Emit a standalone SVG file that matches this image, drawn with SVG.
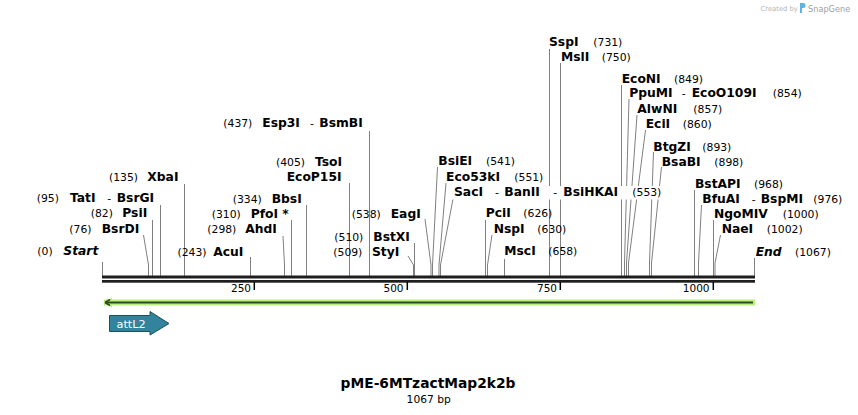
<svg xmlns="http://www.w3.org/2000/svg" width="858" height="415" viewBox="0 0 858 415">
<style>
text{font-family:"DejaVu Sans",Verdana,sans-serif;fill:#000}
.n{font-size:12.3px;font-weight:bold}
.i{font-style:italic}
.p{font-size:10.8px}
.d{font-size:10.8px}
.tk{font-size:10.5px;text-anchor:end}
.c{fill:none;stroke:#808080;stroke-width:1}
.bb{fill:#1e1e1e}
.tick{stroke:#000;stroke-width:1.5}
.bg{fill:#fff}
</style>
<rect width="858" height="415" fill="#fff"/>

<g id="watermark">
<text x="760.5" y="11" style="font-size:6.8px;fill:#b4b4b4">Created by</text>
<path d="M800,3 h3 a2.5,2.5 0 0 1 0,5 h-1 v5 h-2 z" fill="#5bb3e6"/>
<text x="808" y="11.5" style="font-size:8.2px;fill:#a0a0a0">SnapGene</text>
</g>

<g id="connectors">
<path class="c" d="M102.5,262V276"/>
<path class="c" d="M143.5,235L148.5,265V276"/>
<path class="c" d="M152.5,220V276"/>
<path class="c" d="M160.5,205V276"/>
<path class="c" d="M184.5,184V276"/>
<path class="c" d="M250.5,257V276"/>
<path class="c" d="M283,236L284.5,265V276"/>
<path class="c" d="M291.5,220V276"/>
<path class="c" d="M306.5,205V276"/>
<path class="c" d="M349.5,183V276"/>
<path class="c" d="M369.5,131V276"/>
<path class="c" d="M408,256L413.5,265V276"/>
<path class="c" d="M414.5,243V276"/>
<path class="c" d="M425,219L431,265V276"/>
<path class="c" d="M437.5,167L432.5,265V276"/>
<path class="c" d="M446,183L439,265V276"/>
<path class="c" d="M453,199L440.5,265V276"/>
<path class="c" d="M485.5,220V276"/>
<path class="c" d="M492,235L487.5,265V276"/>
<path class="c" d="M504.5,259V276"/>
<path class="c" d="M549.5,49V276"/>
<path class="c" d="M560.5,63V276"/>
<path class="c" d="M621.5,85V276"/>
<path class="c" d="M629,99L624.5,263V276"/>
<path class="c" d="M637,115L626.5,263V276"/>
<path class="c" d="M645.5,130L628.5,263V276"/>
<path class="c" d="M653.5,152L649.5,263V276"/>
<path class="c" d="M661.5,167L651.5,263V276"/>
<path class="c" d="M694.5,190V276"/>
<path class="c" d="M701.5,205L698.5,263V276"/>
<path class="c" d="M713.5,220V276"/>
<path class="c" d="M720.5,235L715,263V276"/>
<path class="c" d="M754.5,258V276"/>
</g>

<g id="backbone">
<rect class="bb" x="102" y="275.5" width="653" height="3"/>
<rect class="bb" x="102" y="280" width="653" height="2.7"/>
<line class="tick" x1="254.3" y1="282" x2="254.3" y2="290"/>
<line class="tick" x1="407.3" y1="282" x2="407.3" y2="290"/>
<line class="tick" x1="560.3" y1="282" x2="560.3" y2="290"/>
<line class="tick" x1="713.3" y1="282" x2="713.3" y2="290"/>
<text class="tk" x="251" y="292">250</text>
<text class="tk" x="403.5" y="292">500</text>
<text class="tk" x="557" y="292">750</text>
<text class="tk" x="709.5" y="292">1000</text>
</g>

<g id="orf-arrow">
<rect x="104" y="299.5" width="651" height="6" fill="#b8f07e"/>
<path d="M103,302.5 L112,297.5 L112,307.5 Z" fill="#b8f07e"/>
<line x1="106" y1="302.5" x2="753" y2="302.5" stroke="#2f4a22" stroke-width="2"/>
<path d="M105,302.5 L110,299.5 M105,302.5 L110,305.5" stroke="#2f4a22" stroke-width="1.5" fill="none"/>
</g>

<g id="attL2">
<path d="M109.5,315.5 H150 V311.5 L169,323.5 L150,335 V331.5 H109.5 Z" fill="#31849b" stroke="#1f4f5c" stroke-width="1"/>
<text x="116.5" y="327.5" style="font-size:11.3px;fill:#fff">attL2</text>
</g>

<g id="Start"><text class="p" x="37.3" y="255">(0)</text><text class="n i" x="63.3" y="255">Start</text></g>
<g id="BsrDI"><text class="p" x="69.3" y="233">(76)</text><text class="n" x="101.7" y="233">BsrDI</text></g>
<g id="PsiI"><text class="p" x="90.7" y="217">(82)</text><text class="n" x="122.3" y="217">PsiI</text></g>
<g id="TatI"><text class="p" x="36.7" y="202">(95)</text><text class="n" x="70" y="202">TatI</text><text class="d" x="107.3" y="202">-</text><text class="n" x="116.7" y="202">BsrGI</text></g>
<g id="XbaI"><text class="p" x="109" y="181">(135)</text><text class="n" x="147.3" y="181">XbaI</text></g>
<g id="AcuI"><text class="p" x="177.5" y="256">(243)</text><text class="n" x="213.3" y="256">AcuI</text></g>
<g id="AhdI"><text class="p" x="207.3" y="233">(298)</text><text class="n" x="245.3" y="233">AhdI</text></g>
<g id="PfoI"><text class="p" x="211.7" y="217.5">(310)</text><text class="n" x="250.7" y="217.5">PfoI *</text></g>
<g id="BbsI"><text class="p" x="232.7" y="202.5">(334)</text><text class="n" x="271.7" y="202.5">BbsI</text></g>
<g id="TsoI"><text class="p" x="276" y="165.5">(405)</text><text class="n" x="315" y="165.5">TsoI</text><text class="n" x="286.7" y="181">EcoP15I</text></g>
<g id="Esp3I"><text class="p" x="223.3" y="127.3">(437)</text><text class="n" x="262.3" y="127.3">Esp3I</text><text class="d" x="310" y="127.3">-</text><text class="n" x="319.3" y="127.3">BsmBI</text></g>
<g id="EagI"><text class="p" x="351.7" y="217.5">(538)</text><text class="n" x="390.7" y="217.5">EagI</text></g>
<g id="BstXI"><text class="p" x="334.3" y="240.5">(510)</text><text class="n" x="373.3" y="240.5">BstXI</text></g>
<g id="StyI"><text class="p" x="333.3" y="255.5">(509)</text><text class="n" x="372" y="255.5">StyI</text></g>
<g id="BsiEI"><text class="n" x="438.3" y="165">BsiEI</text><text class="p" x="486" y="165">(541)</text></g>
<g id="Eco53kI"><text class="n" x="446" y="180.5">Eco53kI</text><text class="p" x="514.3" y="180.5">(551)</text></g>
<g id="SacI"><rect class="bg" x="452" y="186" width="210" height="13.5"/><text class="n" x="454" y="195.7">SacI</text><text class="d" x="495" y="195.7">-</text><text class="n" x="504.3" y="195.7">BanII</text><text class="d" x="553.3" y="195.7">-</text><text class="n" x="563.3" y="195.7">BsiHKAI</text><text class="p" x="632.3" y="195.7">(553)</text></g>
<g id="PciI"><text class="n" x="485.7" y="217.3">PciI</text><text class="p" x="523.3" y="217.3">(626)</text></g>
<g id="NspI"><text class="n" x="493.7" y="232.7">NspI</text><text class="p" x="537.3" y="232.7">(630)</text></g>
<g id="MscI"><text class="n" x="504.3" y="255">MscI</text><text class="p" x="548.3" y="255">(658)</text></g>
<g id="SspI"><text class="n" x="549" y="46">SspI</text><text class="p" x="593.3" y="46">(731)</text></g>
<g id="MslI"><text class="n" x="561" y="60.7">MslI</text><text class="p" x="601.7" y="60.7">(750)</text></g>
<g id="EcoNI"><text class="n" x="621.7" y="82.7">EcoNI</text><text class="p" x="674" y="82.7">(849)</text></g>
<g id="PpuMI"><text class="n" x="629.3" y="97.3">PpuMI</text><text class="d" x="681.7" y="97.3">-</text><text class="n" x="691.7" y="97.3">EcoO109I</text><text class="p" x="772.7" y="97.3">(854)</text></g>
<g id="AlwNI"><text class="n" x="637.3" y="112.7">AlwNI</text><text class="p" x="693.3" y="112.7">(857)</text></g>
<g id="EciI"><text class="n" x="645.7" y="127.7">EciI</text><text class="p" x="682.7" y="127.7">(860)</text></g>
<g id="BtgZI"><text class="n" x="653.3" y="151">BtgZI</text><text class="p" x="702.3" y="151">(893)</text></g>
<g id="BsaBI"><text class="n" x="661.7" y="166">BsaBI</text><text class="p" x="714.3" y="166">(898)</text></g>
<g id="BstAPI"><text class="n" x="695" y="188.3">BstAPI</text><text class="p" x="754" y="188.3">(968)</text></g>
<g id="BfuAI"><text class="n" x="702.3" y="203.3">BfuAI</text><text class="d" x="751.7" y="203.3">-</text><text class="n" x="760.7" y="203.3">BspMI</text><text class="p" x="813.3" y="203.3">(976)</text></g>
<g id="NgoMIV"><text class="n" x="714" y="218.3">NgoMIV</text><text class="p" x="782.7" y="218.3">(1000)</text></g>
<g id="NaeI"><text class="n" x="721.7" y="233.3">NaeI</text><text class="p" x="766.7" y="233.3">(1002)</text></g>
<g id="End"><text class="n i" x="755.7" y="256">End</text><text class="p" x="795" y="256">(1067)</text></g>

<g id="title">
<text x="428" y="388.3" text-anchor="middle" style="font-size:13.8px;font-weight:bold">pME-6MTzactMap2k2b</text>
<text x="428.7" y="402.7" text-anchor="middle" style="font-size:10.7px">1067 bp</text>
</g>
</svg>
